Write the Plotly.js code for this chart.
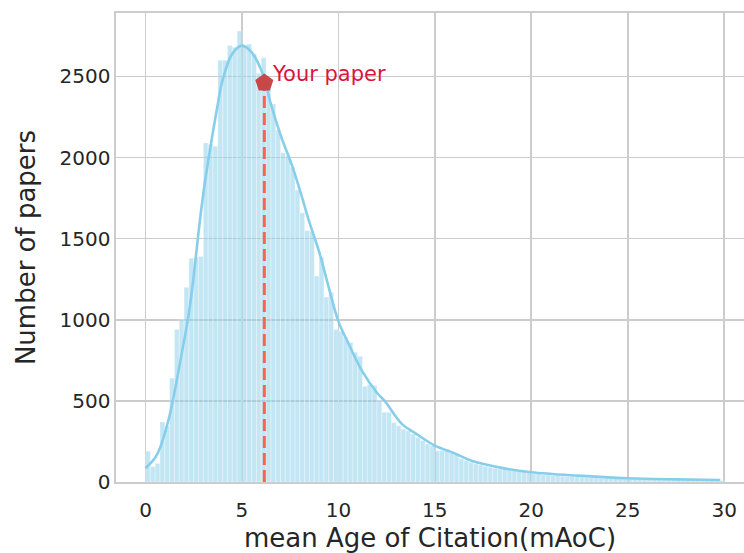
<!DOCTYPE html>
<html>
<head>
<meta charset="utf-8">
<script src="https://cdn.plot.ly/plotly-3.0.1.min.js"></script>
<style>html,body{margin:0;padding:0;background:#fff;}#chart{width:744px;height:553px;}</style>
</head>
<body>
<div id="chart"></div>
<script>
// Histogram: bin width and counts per bin (bins start at 0)
const binWidth = 0.25;
const counts = [
  190, 95, 115, 370, 345, 640, 940, 1000, 1200, 1380,
  1385, 1390, 2090, 2080, 2070, 2600, 2600, 2690, 2680, 2780,
  2690, 2700, 2640, 2520, 2615, 2440, 2330, 2170, 2030, 2010,
  1940, 1800, 1660, 1550, 1545, 1270, 1385, 1140, 1170, 940,
  930, 890, 860, 800, 775, 590, 600, 595, 500, 430,
  430, 367, 347, 326, 316, 296, 275, 255, 234, 224,
  193, 193, 203, 183, 173, 143, 132, 122, 112, 105,
  97, 91, 85, 81, 81, 77, 70, 70, 64, 60,
  50, 50, 44, 44, 40, 40, 36, 34, 34, 32,
  30, 28, 28, 26, 24, 24, 22, 22, 20, 20,
  19, 18, 18, 17, 16, 16, 15, 14, 14, 13,
  13, 12, 12, 11, 11, 10, 10, 9, 9, 8
];
// KDE curve
const kdeX = [0, 0.5, 0.75, 1.0, 1.25, 1.5, 1.75, 2.0, 2.25, 2.5, 2.75, 3.0, 3.25, 3.5, 3.75, 4.0, 4.5, 5.0, 5.5, 6.0, 6.2, 6.5, 7.0, 7.6, 8.0, 8.5, 9.0, 9.5, 10.0, 10.5, 11.25, 12.0, 12.4, 13.3, 14.0, 15.0, 16.0, 16.9, 18.6, 20.0, 22.4, 25.0, 27.5, 29.8];
const kdeY = [85, 150, 210, 300, 410, 550, 710, 870, 1040, 1270, 1540, 1780, 1980, 2160, 2330, 2480, 2640, 2690, 2650, 2540, 2470, 2330, 2140, 1950, 1800, 1600, 1420, 1200, 990, 860, 680, 550, 500, 357, 300, 224, 178, 131, 84, 60, 39, 23, 16, 12];
// Your paper
const paperX = 6.16;
const paperY = 2460;
const paperLabel = "Your paper";
// Axis labels and ticks
const xTicks = [0, 5, 10, 15, 20, 25, 30];
const yTicks = [0, 500, 1000, 1500, 2000, 2500];
const xLabel = "mean Age of Citation(mAoC)";
const yLabel = "Number of papers";

const binCenters = counts.map((c, i) => i * binWidth + binWidth / 2);

const traces = [
  {
    type: 'bar', x: binCenters, y: counts, width: binWidth,
    marker: {color: 'rgba(135,206,235,0.5)', line: {color: 'rgba(255,255,255,0.55)', width: 0.6}},
    hoverinfo: 'skip', showlegend: false
  },
  {
    type: 'scatter', mode: 'lines', x: kdeX, y: kdeY,
    line: {color: '#87CEEB', width: 2.6, shape: 'spline', smoothing: 1},
    showlegend: false
  },
  {
    type: 'scatter', mode: 'lines', x: [paperX, paperX], y: [0, paperY],
    line: {color: '#FF6347', width: 3, dash: '12px,5px'},
    showlegend: false
  },
  {
    type: 'scatter', mode: 'markers', x: [paperX], y: [paperY],
    marker: {symbol: 'pentagon', size: 19, color: '#c8474b', line: {width: 0}},
    showlegend: false
  }
];

const layout = {
  width: 744, height: 553,
  margin: {l: 116, r: 0, t: 13, b: 71},
  paper_bgcolor: '#ffffff', plot_bgcolor: '#ffffff',
  font: {family: 'DejaVu Sans', color: '#262626'},
  bargap: 0,
  xaxis: {
    range: [-1.53, 31.03], tickvals: xTicks, ticktext: xTicks.map(String),
    showgrid: true, gridcolor: '#cccccc', gridwidth: 1.6, zeroline: false,
    showline: true, linecolor: '#cccccc', linewidth: 1.6, mirror: true,
    ticks: '', tickfont: {size: 20, color: '#262626'}, ticklabelstandoff: 9,
    automargin: false,
    title: {text: xLabel, font: {size: 26, color: '#262626'}, standoff: 15}
  },
  yaxis: {
    range: [0, 2891], tickvals: yTicks, ticktext: yTicks.map(String),
    showgrid: true, gridcolor: '#cccccc', gridwidth: 1.6, zeroline: false,
    showline: true, linecolor: '#cccccc', linewidth: 1.6, mirror: true,
    ticks: '', tickfont: {size: 20, color: '#262626'},
    automargin: false,
    title: {text: yLabel, font: {size: 26, color: '#262626'}, standoff: 16}
  },
  annotations: [{
    x: paperX, y: paperY, xref: 'x', yref: 'y', text: paperLabel, showarrow: false,
    xanchor: 'left', yanchor: 'middle', xshift: 6, yshift: 9,
    font: {size: 21, color: '#DC143C', family: 'DejaVu Sans'}
  }]
};

Plotly.newPlot('chart', traces, layout, {staticPlot: true, displayModeBar: false});
</script>
</body>
</html>
